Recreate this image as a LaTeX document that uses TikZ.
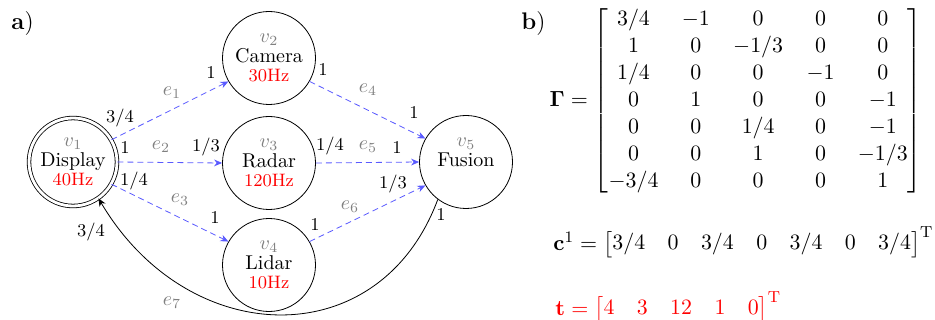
\documentclass[tikz,border=0pt]{standalone}
\usepackage{amsmath}
\usetikzlibrary{arrows.meta}
\definecolor{edgeblue}{RGB}{90,90,255}
\begin{document}
\begin{tikzpicture}[x=0.5pt,y=-0.5pt,
  state/.style={circle,draw,minimum size=46.5pt,inner sep=0pt,align=center},
  flow/.style={draw=edgeblue,dash pattern=on 3pt off 2pt,-{Stealth[length=4pt,width=3.4pt]}},
  back/.style={draw=black,-{Stealth[length=4pt,width=3.4pt]}},
  wt/.style={font=\small,inner sep=0pt},
  elab/.style={text=gray,inner sep=0pt},
  panel/.style={font=\large,inner sep=0pt,anchor=base west},
  mathbig/.style={inner sep=0pt,font=\fontsize{11}{13.5}\selectfont},
]
\useasboundingbox (0,0) rectangle (935,320);

% panel labels
\node[panel] (pa) at (11,30) {\textbf{a})};
\node[panel] (pb) at (521,30) {\textbf{b})};

% vertices
\node[state,double,double distance=1.4pt,minimum size=44pt] (v1) at (73,162)
  {\textcolor{gray}{$v_1$}\\[-2.25pt]Display\\[-2.25pt]{\small\textcolor{red}{40Hz}}};
\node[state] (v2) at (269,58)
  {\textcolor{gray}{$v_2$}\\[-2.25pt]Camera\\[-2.25pt]{\small\textcolor{red}{30Hz}}};
\node[state] (v3) at (269,163)
  {\textcolor{gray}{$v_3$}\\[-2.25pt]Radar\\[-2.25pt]{\small\textcolor{red}{120Hz}}};
\node[state] (v4) at (269,265)
  {\textcolor{gray}{$v_4$}\\[-2.25pt]Lidar\\[-2.25pt]{\small\textcolor{red}{10Hz}}};
\node[state] (v5) at (466,162)
  {\textcolor{gray}{$v_5$}\\[-2.25pt]Fusion\\[-2.25pt]{\small\vphantom{0}}};

% edges
\draw[flow] (v1.30) -- (v2.210);
\draw[flow] (v1.0) -- (v3.180);
\draw[flow] (v1.-30) -- (v4.150);
\draw[flow] (v2.-30) -- (v5.150);
\draw[flow] (v3.0) -- (v5.180);
\draw[flow] (v4.30) -- (v5.210);
\draw[back] (v5.-127) .. controls +(-58,156) and +(90,152) .. (v1.-55);

% edge labels
\node[wt] (w1a) at (120,118) {$3/4$};
\node[wt] (w1b) at (211,73) {$1$};
\node[elab] (l1) at (172,93) {$e_1$};
\node[wt] (w2a) at (125,148) {$1$};
\node[elab] (l2) at (161,147) {$e_2$};
\node[wt] (w2b) at (206,147) {$1/3$};
\node[wt] (w3a) at (134,181) {$1/4$};
\node[elab] (l3) at (180,200) {$e_3$};
\node[wt] (w3b) at (215,218) {$1$};
\node[wt] (w4a) at (323,70) {$1$};
\node[elab] (l4) at (368,90) {$e_4$};
\node[wt] (w4b) at (414,113) {$1$};
\node[wt] (w5a) at (330,146) {$1/4$};
\node[elab] (l5) at (368,147) {$e_5$};
\node[wt] (w5b) at (397,148) {$1$};
\node[wt] (w6a) at (315,225) {$1$};
\node[elab] (l6) at (350,207) {$e_6$};
\node[wt] (w6b) at (393,184) {$1/3$};
\node[wt] (w7a) at (441,215) {$1$};
\node[wt] (w7b) at (91,232) {$3/4$};
\node[elab] (l7) at (172,303) {$e_7$};

% panel b
\node[mathbig] (G) at (736,101) {\setlength{\arraycolsep}{5.85pt}$\mathbf{\Gamma} = \begin{bmatrix}
3/4 & -1 & 0 & 0 & 0\\
1 & 0 & -1/3 & 0 & 0\\
1/4 & 0 & 0 & -1 & 0\\
0 & 1 & 0 & 0 & -1\\
0 & 0 & 1/4 & 0 & -1\\
0 & 0 & 1 & 0 & -1/3\\
-3/4 & 0 & 0 & 0 & 1
\end{bmatrix}$};
\node[mathbig,anchor=base west] (c) at (553,250) {\setlength{\arraycolsep}{5.6pt}$\mathbf{c}^1 = \begin{bmatrix}3/4 & 0 & 3/4 & 0 & 3/4 & 0 & 3/4\end{bmatrix}^{\mathrm{T}}$};
\node[mathbig,anchor=base west,text=red] (t) at (555,315) {\setlength{\arraycolsep}{5.6pt}$\mathbf{t} = \begin{bmatrix}4 & 3 & 12 & 1 & 0\end{bmatrix}^{\mathrm{T}}$};
\end{tikzpicture}
\end{document}
